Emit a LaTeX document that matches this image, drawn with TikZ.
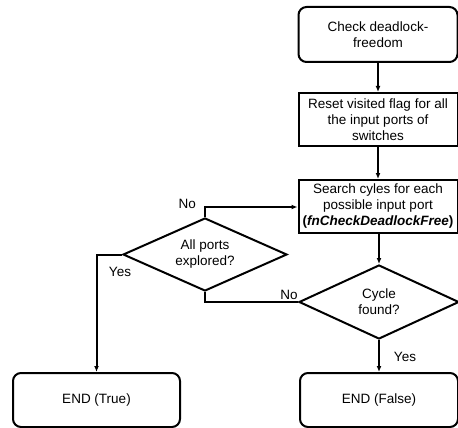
\documentclass[tikz,border=0pt]{standalone}
\usepackage{fontspec}
\setmainfont{Liberation Sans}
\usetikzlibrary{shapes.geometric,arrows.meta}
\begin{document}
\begin{tikzpicture}[x=1pt,y=-1pt,
  every node/.style={font=\fontsize{13.5}{16}\selectfont, inner sep=1pt},
  base/.style={draw, line width=2pt, align=center},
  rbox/.style={base, rectangle, rounded corners=8pt},
  sbox/.style={base, rectangle},
  dia/.style={base, diamond, aspect=2},
  conn/.style={line width=2pt},
  arr/.style={conn, -{Latex[length=6pt,width=5pt]}},
  lbl/.style={font=\fontsize{13.5}{16}\selectfont}]
\useasboundingbox (0,0) rectangle (458,428);
\node[rbox, minimum width=159pt, minimum height=55pt] (start) at (378,34.5) {Check deadlock-\\freedom};
\node[sbox, minimum width=159pt, minimum height=53pt] (reset) at (378,119.5) {Reset visited flag for all\\the input ports of\\switches};
\node[sbox, minimum width=159pt, minimum height=53pt] (search) at (378,206.5) {Search cyles for each\\possible input port\\\textbf{(\textit{fnCheckDeadlockFree})}};
\node[dia, minimum width=160pt, minimum height=74pt] (cycle) at (379,302) {Cycle\\found?};
\node[dia, minimum width=164pt, minimum height=73pt] (all) at (205,254.5) {All ports\\explored?};
\node[rbox, minimum width=167pt, minimum height=54pt] (endt) at (96.5,400) {END (True)};
\node[rbox, minimum width=158pt, minimum height=54pt] (endf) at (379,400) {END (False)};
\draw[arr] (start) -- (reset);
\draw[arr] (reset) -- (search);
\draw[arr] (search.south -| cycle.north) -- (cycle.north);
\draw[arr] (cycle.south) -- (endf.north);
\coordinate (c1) at (all.north |- 0,207);
\draw[arr] (all.north) -- (c1) -- (c1 -| search.west);
\draw[conn] (cycle.west) -- (cycle.west -| all.south) -- (all.south);
\draw[arr] (all.west) -| (endt.north);
\node[lbl, anchor=east] (no1) at (197,204) {No};
\node[lbl] (yes1) at (120,272) {Yes};
\node[lbl] (no2) at (289,295) {No};
\node[lbl] (yes2) at (405,357) {Yes};
\end{tikzpicture}
\end{document}
